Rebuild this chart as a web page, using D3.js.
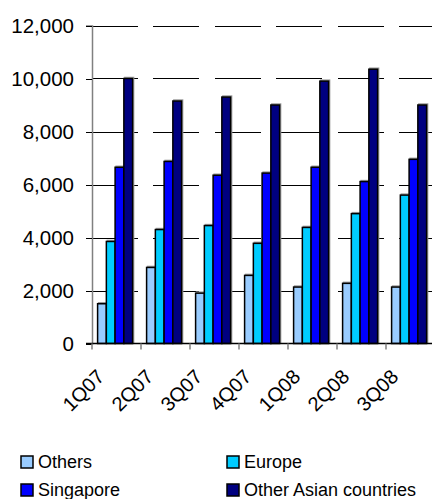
<!DOCTYPE html>
<html>
<head>
<meta charset="utf-8">
<script src="https://cdn.jsdelivr.net/npm/d3@7"></script>
<style>
  body { margin: 0; background: #fff; }
  svg { display: block; font-family: Arial, "Liberation Sans", sans-serif; }
</style>
</head>
<body>
<div id="chart"></div>
<script>
// quarters on the x axis
const quarters = ["1Q07", "2Q07", "3Q07", "4Q07", "1Q08", "2Q08", "3Q08"];
const seriesNames = ["Others", "Europe", "Singapore", "Other Asian countries"];
const seriesColors = ["#99ccff", "#00ccff", "#0000ff", "#000080"];

// values per series
const others = [1500, 2870, 1900, 2570, 2130, 2270, 2130];
const europe = [3850, 4300, 4450, 3780, 4380, 4900, 5600];
const singapore = [6650, 6870, 6350, 6430, 6650, 6110, 6950];
const otherAsian = [10000, 9150, 9300, 9000, 9900, 10350, 9000];

const yTicks = [0, 2000, 4000, 6000, 8000, 10000, 12000];

const width = 432, height = 499;

const svg = d3.select("#chart").append("svg")
  .attr("width", width)
  .attr("height", height);

const y = d3.scaleLinear().domain([0, 12000]).range([343.5, 25.5]);

const x0 = d3.scaleBand().domain(quarters).range([92, 435]).padding(0);
const x1 = d3.scaleBand().domain(seriesNames)
  .range([0, x0.bandwidth()])
  .paddingInner(0)
  .paddingOuter(0.8)
  .align(0.4);

const color = d3.scaleOrdinal().domain(seriesNames).range(seriesColors);

// gridlines (dashed, long dashes)
svg.append("g")
  .selectAll("line")
  .data(yTicks.filter((d) => d > 0))
  .enter()
  .append("line")
  .attr("x1", 92)
  .attr("x2", width)
  .attr("y1", (d) => Math.round(y(d)) + 0.5)
  .attr("y2", (d) => Math.round(y(d)) + 0.5)
  .style("stroke", "#000")
  .style("stroke-width", 1)
  .style("shape-rendering", "crispEdges")
  .style("stroke-dasharray", "46,15.4");

// y axis
const yAxis = svg.append("g")
  .attr("transform", "translate(92,0)")
  .call(d3.axisLeft(y).tickValues(yTicks).tickSize(6).tickPadding(12).tickFormat(d3.format(",")));
yAxis.select(".domain").style("stroke", "#808080").style("stroke-width", 1.5);
yAxis.selectAll(".tick line").style("stroke", "#000").style("shape-rendering", "crispEdges");
yAxis.selectAll("text")
  .style("font-size", "20.5px")
  .style("fill", "#000")
  .style("font-family", "Arial, 'Liberation Sans', sans-serif");

// bars
const data = quarters.map((q, i) => ({
  q: q,
  values: [others[i], europe[i], singapore[i], otherAsian[i]]
}));

const groups = svg.append("g")
  .selectAll("g")
  .data(data)
  .enter()
  .append("g")
  .attr("transform", (d) => "translate(" + x0(d.q) + ",0)");

const bars = groups.selectAll("g")
  .data((d) => d.values.map((v, i) => ({ name: seriesNames[i], value: v })))
  .enter()
  .append("g");

// little grey shadow like the original
bars.append("rect")
  .attr("x", (d) => x1(d.name) + 1)
  .attr("y", (d) => y(d.value) - 1)
  .attr("width", x1.bandwidth())
  .attr("height", (d) => y(0) - y(d.value))
  .style("fill", "none")
  .style("stroke", "#9a9a9a")
  .style("stroke-width", 1.5);

bars.append("rect")
  .attr("x", (d) => x1(d.name))
  .attr("y", (d) => y(d.value))
  .attr("width", x1.bandwidth())
  .attr("height", (d) => y(0) - y(d.value))
  .style("fill", (d) => color(d.name))
  .style("stroke", "#000")
  .style("stroke-width", 1.5);

// x axis
svg.append("line")
  .attr("x1", 86)
  .attr("x2", width)
  .attr("y1", y(0))
  .attr("y2", y(0))
  .style("stroke", "#000")
  .style("stroke-width", 1.5);

svg.append("g")
  .selectAll("line")
  .data(quarters)
  .enter()
  .append("line")
  .attr("x1", (d) => x0(d))
  .attr("x2", (d) => x0(d))
  .attr("y1", y(0))
  .attr("y2", y(0) + 6)
  .style("stroke", "#808080")
  .style("stroke-width", 1.5);

svg.append("g")
  .selectAll("text")
  .data(quarters)
  .enter()
  .append("text")
  .attr("transform", (d) => "translate(" + (x0(d) + x0.bandwidth() / 2 - 11) + ",378) rotate(-45)")
  .attr("text-anchor", "end")
  .style("font-size", "20px")
  .text((d) => d);

// legend
const legendPos = [
  [21, 462], [227, 462],
  [21, 490], [227, 490]
];

const legend = svg.append("g")
  .selectAll("g")
  .data(seriesNames)
  .enter()
  .append("g")
  .attr("transform", (d, i) => "translate(" + legendPos[i][0] + "," + legendPos[i][1] + ")");

legend.append("rect")
  .attr("x", 0)
  .attr("y", -6)
  .attr("width", 12)
  .attr("height", 12)
  .style("fill", (d) => color(d))
  .style("stroke", "#000")
  .style("stroke-width", 1.5);

legend.append("text")
  .attr("x", 17)
  .attr("y", 0)
  .attr("dy", "0.36em")
  .style("font-size", "18px")
  .text((d) => d);
</script>
</body>
</html>
